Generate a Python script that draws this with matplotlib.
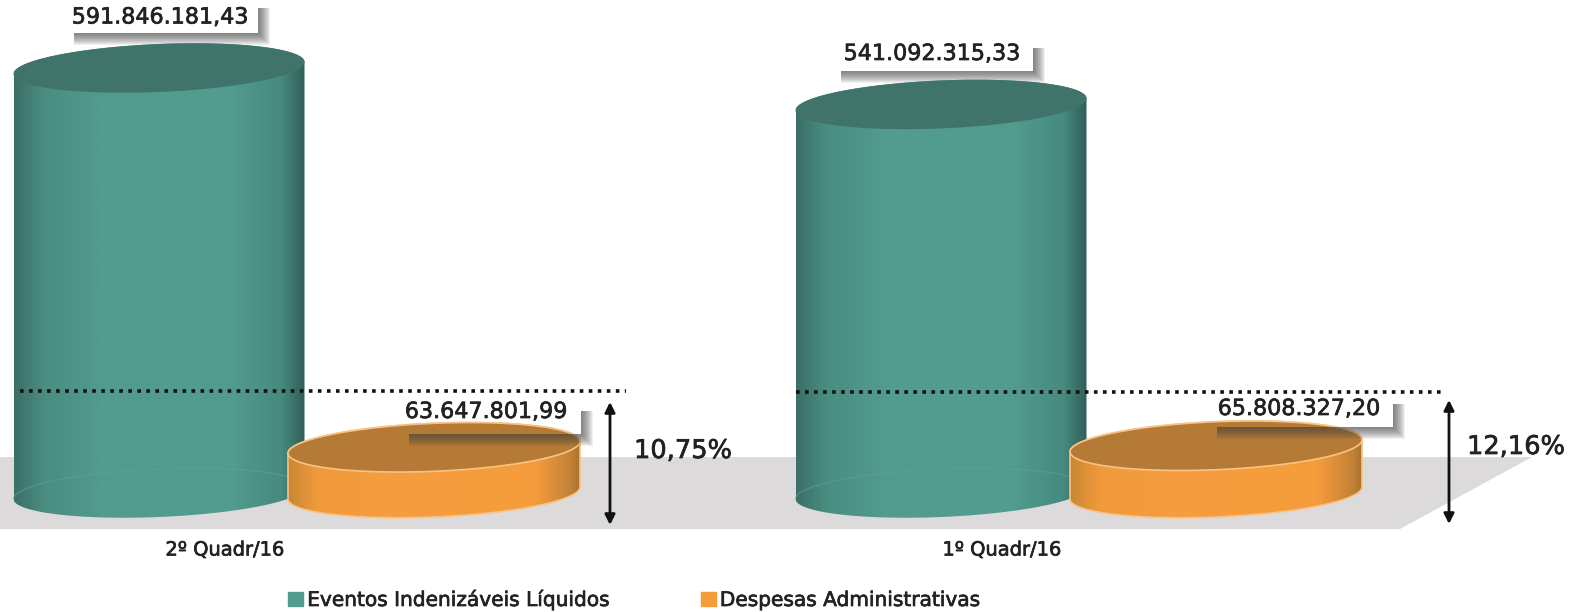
import numpy as np
import matplotlib
matplotlib.use('Agg')
import matplotlib.pyplot as plt
import matplotlib.patheffects as pe
from matplotlib.colors import LinearSegmentedColormap
from matplotlib.patches import Patch, Polygon, Rectangle
from matplotlib.transforms import Affine2D

periods = ['2º Quadr/16', '1º Quadr/16']
eventos = [591846181.43, 541092315.33]
despesas = [63647801.99, 65808327.20]
percentuais = ['10,75%', '12,16%']
series_names = ['Eventos Indenizáveis Líquidos', 'Despesas Administrativas']

W, H = 1587, 612
Y0 = 493
K = 425 / 591846181.43   # pixels por real
INK = '#222222'
SEMI = [pe.withStroke(linewidth=0.5, foreground=INK)]

fig = plt.figure(figsize=(W / 100, H / 100), dpi=100)
ax = fig.add_axes([0, 0, 1, 1])
ax.axis('off')
# coordenadas em pixels para o que nao e dado
pix = Affine2D().scale(1 / W, -1 / H).translate(0, 1) + fig.transFigure

teal_cmap = LinearSegmentedColormap.from_list('teal', [
    (0, '#3c6f68'), (0.1, '#4a8c80'), (0.3, '#529b8f'), (0.75, '#529b8f'), (0.92, '#478a7e'), (1, '#2f5f5a')])
orange_cmap = LinearSegmentedColormap.from_list('orange', [
    (0, '#c98735'), (0.1, '#f09a3c'), (0.4, '#f69e3f'), (0.85, '#f59c3c'), (0.97, '#c28237'), (1, '#a9742f')])


def ellipse_pts(cx, w, value, t):
    rx = w / 2
    ry = 24 / K
    shear = 6 / K
    return cx + rx * np.cos(t), value + ry * np.sin(t) + shear * np.cos(t)


def cylinder(cx, w, value, cmap, top_color, edge=None, z=3):
    t_low = np.linspace(np.pi, 2 * np.pi, 80)
    t_up = np.linspace(0, np.pi, 80)
    xb, yb = ellipse_pts(cx, w, 0, t_low)
    xt, yt = ellipse_pts(cx, w, value, t_up)
    verts = np.column_stack([np.r_[xb, xt], np.r_[yb, yt]])
    body = Polygon(verts, closed=True, facecolor='none', edgecolor=edge or 'none', lw=1.2, zorder=z + 0.1)
    ax.add_patch(body)
    grad = np.linspace(0, 1, 256).reshape(1, -1)
    im = ax.imshow(grad, cmap=cmap, aspect='auto', zorder=z,
                   extent=(cx - w / 2, cx + w / 2, -40 / K, value + 40 / K))
    im.set_clip_path(body)
    t = np.linspace(0, 2 * np.pi, 160)
    xe, ye = ellipse_pts(cx, w, value, t)
    ax.fill(xe, ye, color=top_color, ec=edge or 'none', lw=1.2, zorder=z + 0.2)


def label_box(x0, y0, x1, y1, text, tx, ty, z_box, z_shadow):
    ax.add_patch(Rectangle((x0, y0), x1 - x0, y1 - y0, transform=pix, fc='white', ec='none', zorder=z_box))
    # sombra borrada: camadas finas sobrepostas
    for i in range(1, 13):
        ax.add_patch(Rectangle((x0 + 6, y1), x1 - x0 - 6, i, transform=pix, fc='#444444',
                               ec='none', alpha=0.08, zorder=z_shadow))
        ax.add_patch(Rectangle((x1, y0 + 8), i, y1 - y0 - 8 + i, transform=pix, fc='#444444',
                               ec='none', alpha=0.08, zorder=z_shadow))
    ax.text(tx, ty, text, transform=pix, ha='center', va='center', fontsize=16,
            color=INK, zorder=9, path_effects=SEMI)


def fmt(v):
    return f'{v:,.2f}'.replace(',', 'x').replace('.', ',').replace('x', '.')


# piso cinza
ax.add_patch(Polygon([(0, 457), (1532, 457), (1400, 529), (0, 529)], transform=pix, fc='#dcdadb', ec='none', zorder=1))

teal_x = [159, 941]
orange_x = [434, 1216]
teal_w = 291
orange_w = 292
for i in range(len(periods)):
    cylinder(teal_x[i], teal_w, eventos[i], teal_cmap, '#40736a')
    # base aparente do cilindro
    xb, yb = ellipse_pts(teal_x[i], teal_w, 0, np.linspace(0.35, np.pi, 60))
    ax.plot(xb, yb, color='#5fa498', lw=1, alpha=0.5, zorder=3.5)
    cylinder(orange_x[i], orange_w, despesas[i], orange_cmap, '#b57a36', edge='#f8c384', z=4)

label_box(68, 0, 258, 33, fmt(eventos[0]), 160, 17.5, 2, 2.5)
label_box(835, 40, 1033, 71, fmt(eventos[1]), 932, 54, 2, 2.5)
label_box(403, 403, 581, 434, fmt(despesas[0]), 486, 412, 2, 5)
label_box(1211, 396, 1393, 427, fmt(despesas[1]), 1299, 409, 2, 5)

# linhas pontilhadas e setas
dots = [(20, 626, 391), (796, 1443, 392)]
for x0, x1, y in dots:
    ax.plot([x0, x1], [y, y], transform=pix, color='#111111', lw=2.6, ls=(0, (1, 1.5)), zorder=6)
arrows = [(610, 402, 525), (1449, 400, 524)]
for x, y0, y1 in arrows:
    ax.annotate('', xy=(x, y0), xytext=(x, y1), xycoords=pix, textcoords=pix, zorder=6,
                arrowprops=dict(arrowstyle='<|-|>', color='#111111', lw=2, mutation_scale=15, shrinkA=0, shrinkB=0))

pct_pos = [(634, 451), (1467, 447)]
for (x, y), s in zip(pct_pos, percentuais):
    ax.text(x, y, s, transform=pix, ha='left', va='center', fontsize=18.5, color=INK, zorder=9, path_effects=SEMI)

cat_x = [225, 1002]
for x, s in zip(cat_x, periods):
    ax.text(x, 550, s, transform=pix, ha='center', va='center', fontsize=14, color=INK, zorder=9, path_effects=SEMI)

ax.set_xlim(0, W)
ax.set_ylim(-(H - Y0) / K, Y0 / K)

handles = [Patch(color='#529b8f', label=series_names[0]), Patch(color='#f59c3c', label=series_names[1])]
leg = ax.legend(handles=handles, ncol=2, frameon=False, loc='center left', bbox_to_anchor=(278 / W, 1 - 600 / H),
                fontsize=14.5, handlelength=0.75, handleheight=0.75, handletextpad=0.2, columnspacing=4.5,
                borderpad=0, labelcolor=INK)
for txt in leg.get_texts():
    txt.set_path_effects(SEMI)

fig.savefig('out.png', dpi=100)
